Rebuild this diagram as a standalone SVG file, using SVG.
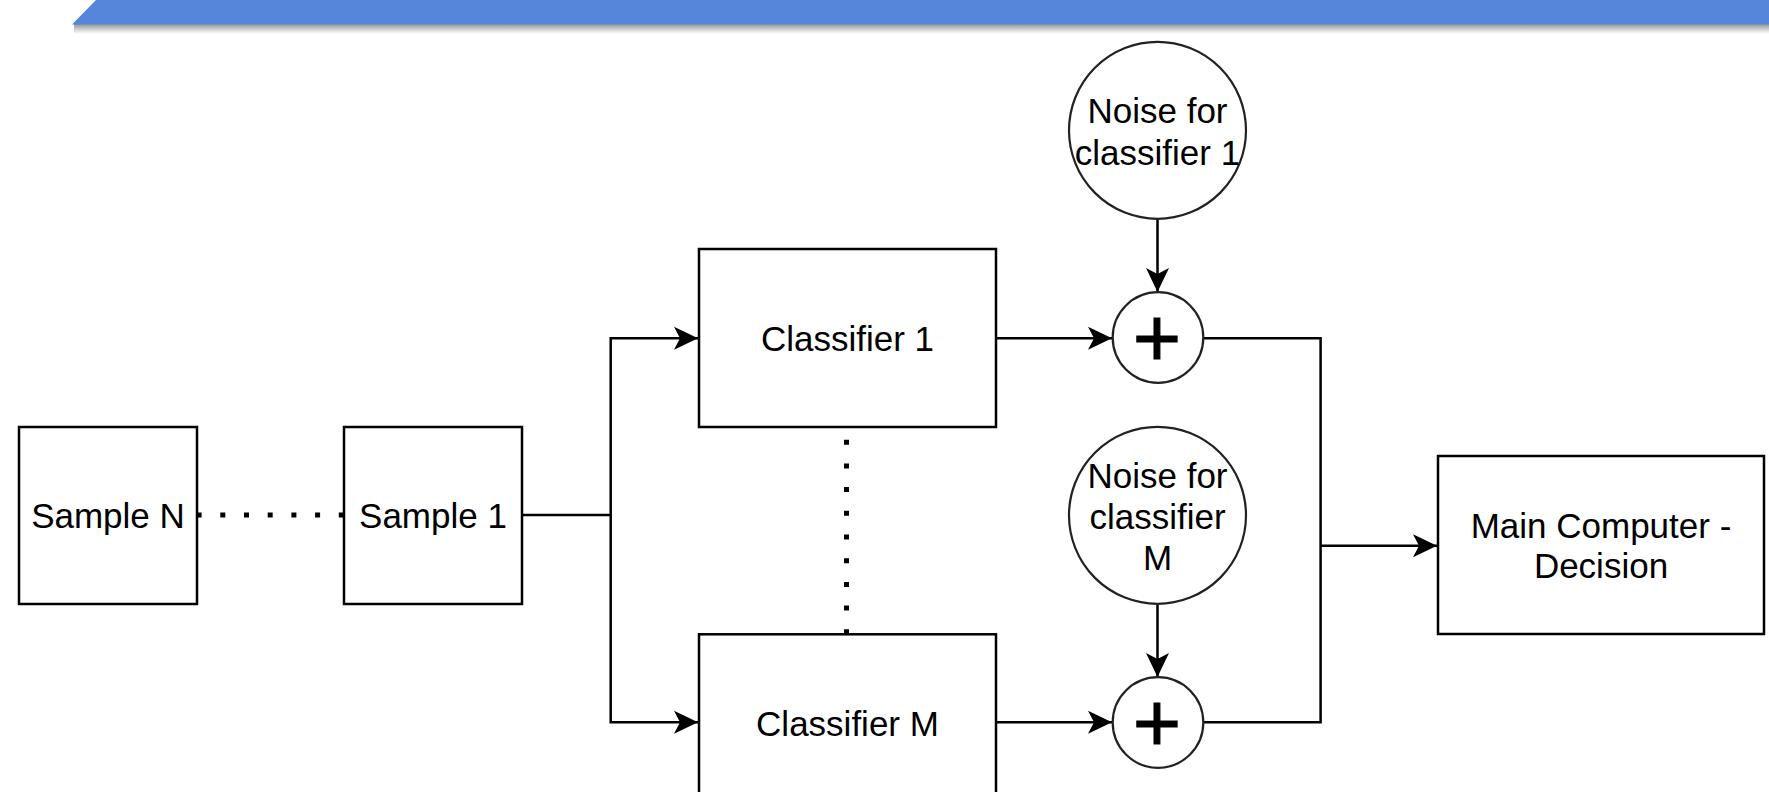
<svg xmlns="http://www.w3.org/2000/svg" width="1769" height="792" viewBox="0 0 1769 792">
<defs>
<style>
.box{fill:#fff;stroke:#000;stroke-width:2.5}
.circ{fill:#fff;stroke:#222;stroke-width:2.2}
.lbl{font-family:"Liberation Sans",Arial,sans-serif;font-size:35px;fill:#000;text-anchor:middle}
.plus{font-family:"Liberation Sans",Arial,sans-serif;font-size:83px;fill:#000;stroke:#000;stroke-width:1;text-anchor:middle}
.conn{fill:none;stroke:#000;stroke-width:2.5}
.dot{fill:none;stroke:#000;stroke-width:5;stroke-dasharray:5 18.7}
</style>
<marker id="arr" viewBox="0 0 24 24" refX="24" refY="12" markerWidth="24" markerHeight="24" markerUnits="userSpaceOnUse" orient="auto">
<path d="M0,0.5 L24,12 L0,23.5 L6,12 Z" fill="#000"/>
</marker>
<linearGradient id="shadow" x1="0" y1="0" x2="0" y2="1">
<stop offset="0" stop-color="#777" stop-opacity="0.8"/>
<stop offset="1" stop-color="#888" stop-opacity="0"/>
</linearGradient>
</defs>
<rect width="1769" height="792" fill="#fff"/>
<g id="header">
<rect x="74" y="24" width="1695" height="10" fill="url(#shadow)"/>
<polygon points="96,0 1769,0 1769,24.5 72,24.5" fill="#5586d9"/>
</g>
<g id="connectors">
<path class="conn" d="M522,515 H610.7 V338.3 H698" marker-end="url(#arr)"/>
<path class="conn" d="M610.7,515 V722.3 H698" marker-end="url(#arr)"/>
<path class="conn" d="M996,338.3 H1112" marker-end="url(#arr)"/>
<path class="conn" d="M996,722.3 H1112" marker-end="url(#arr)"/>
<path class="conn" d="M1157.5,219 V292" marker-end="url(#arr)"/>
<path class="conn" d="M1157.5,604 V677" marker-end="url(#arr)"/>
<path class="conn" d="M1203.5,338.3 H1320.6 V722.3 H1203.5"/>
<path class="conn" d="M1320.6,545.7 H1437" marker-end="url(#arr)"/>
<path class="dot" d="M343.8,515 H196.9"/>
<path class="dot" d="M846.5,634.3 V426.7"/>
</g>
<g id="sampleN">
<rect class="box" x="19" y="427" width="178" height="177"/>
<text class="lbl" x="108" y="528">Sample N</text>
</g>
<g id="sample1">
<rect class="box" x="344" y="427" width="178" height="177"/>
<text class="lbl" x="433" y="528">Sample 1</text>
</g>
<g id="classifier1">
<rect class="box" x="699" y="249" width="297" height="178"/>
<text class="lbl" x="847.5" y="351">Classifier 1</text>
</g>
<g id="classifierM">
<rect class="box" x="699" y="634.3" width="297" height="178"/>
<text class="lbl" x="847.5" y="735.5">Classifier M</text>
</g>
<g id="noise1">
<circle class="circ" cx="1157.5" cy="130.3" r="88.5"/>
<text class="lbl" x="1157.5" y="123.3">Noise for</text>
<text class="lbl" x="1157.5" y="165">classifier 1</text>
</g>
<g id="noiseM">
<circle class="circ" cx="1157.5" cy="515.3" r="88.5"/>
<text class="lbl" x="1157.5" y="488.3">Noise for</text>
<text class="lbl" x="1157.5" y="528.5">classifier</text>
<text class="lbl" x="1157.5" y="570">M</text>
</g>
<g id="sum1">
<circle class="circ" cx="1158" cy="337.5" r="45.3"/>
<text class="plus" x="1157" y="366">+</text>
</g>
<g id="sumM">
<circle class="circ" cx="1158" cy="722.5" r="45.3"/>
<text class="plus" x="1157" y="751">+</text>
</g>
<g id="main">
<rect class="box" x="1438" y="456" width="326" height="178"/>
<text class="lbl" x="1601" y="537.7">Main Computer -</text>
<text class="lbl" x="1601" y="578.3">Decision</text>
</g>
</svg>
